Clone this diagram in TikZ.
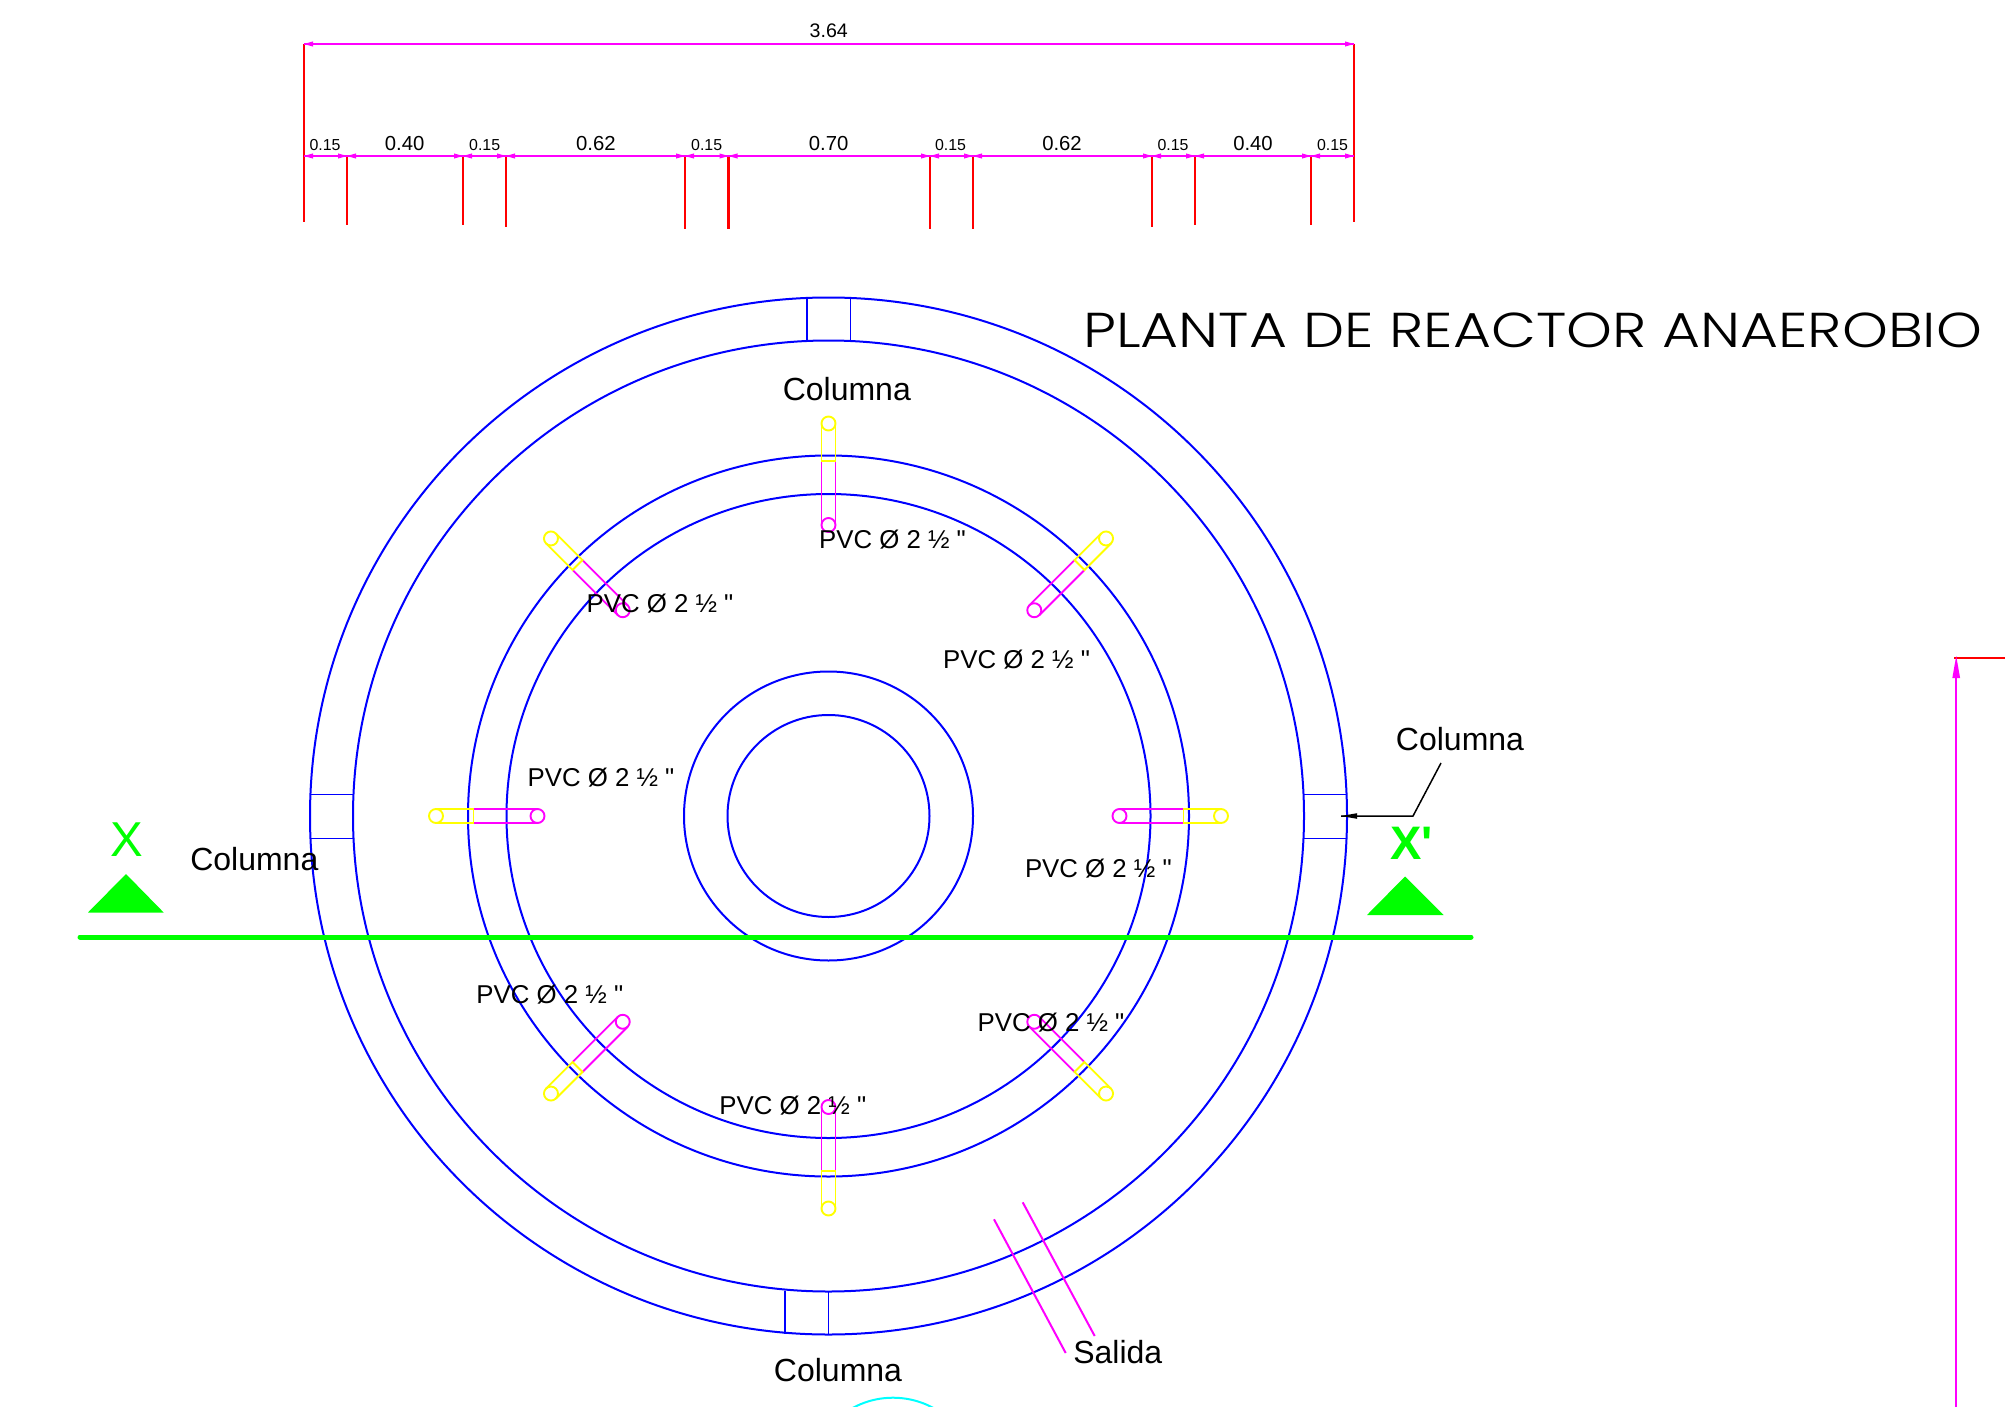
\documentclass[tikz,border=0pt]{standalone}
\usepackage{fontspec}
\setmainfont{Liberation Sans}[Ligatures=TeXOff]
\newfontfamily\titlefont{Poppins Light}
\definecolor{cadblue}{RGB}{0,0,255}
\definecolor{cadmag}{RGB}{255,0,255}
\definecolor{cadred}{RGB}{255,0,0}
\definecolor{cadgreen}{RGB}{0,255,0}
\definecolor{cadyel}{RGB}{255,255,0}
\definecolor{cadcyan}{RGB}{0,255,255}
\newcommand{\fsz}[1]{\fontsize{#1}{#1}\selectfont}
\tikzset{
  ring/.style={draw=cadblue,line width=2pt},
  colline/.style={draw=cadblue,line width=1.7pt},
  tickred/.style={draw=cadred,line width=2.2pt},
  dimline/.style={draw=cadmag,line width=2pt},
  pipem/.style={draw=cadmag,line width=1.9pt},
  pipey/.style={draw=cadyel,line width=1.9pt},
  head/.style={fill=cadmag,draw=none},
  lab/.style={inner sep=0pt,text=black},
  pvc/.style={lab,font=\fsz{25.8}},
  col/.style={lab,font=\fsz{32}},
  smalld/.style={lab,font=\fsz{15.9}},
  bigd/.style={lab,font=\fsz{20.3}},
}
\newcommand{\headR}[2]{\fill[head] (#1,#2) -- ++(-9,-2.6) -- ++(0,5.2) -- cycle;}
\newcommand{\headL}[2]{\fill[head] (#1,#2) -- ++(9,-2.6) -- ++(0,5.2) -- cycle;}
\begin{document}
\begin{tikzpicture}[x=1pt,y=-1pt]
\useasboundingbox (0,0) rectangle (2005,1407);
\fill[white] (0,0) rectangle (2005,1407);
\coordinate (c) at (828.5,816);
% rings
\foreach \r in {518.5,475.5,360.5,322,144.5,101} {\draw[ring] (c) circle[radius=\r];}
% columns
\draw[colline] (807,297.5) -- (807,340.5) (850.5,297.5) -- (850.5,340.5);
\draw[colline] (785.3,1291) -- (785.3,1334) (828.5,1291.5) -- (828.5,1334.5);
\draw[colline] (310,794.5) -- (353.4,794.5) (310,838.5) -- (353.4,838.5);
\draw[colline] (1303.5,794.5) -- (1347,794.5) (1303.5,838.5) -- (1347,838.5);
% pipes
\foreach \a in {0,45,...,315} {
  \begin{scope}[shift={(c)},rotate=\a]
    \draw[pipem] (355,-7) -- (291,-7) (355,7) -- (291,7);
    \draw[pipem] (291,0) circle[radius=7];
    \draw[pipey] (392.5,-7) -- (355,-7) -- (355,7) -- (392.5,7);
    \draw[pipey] (392.5,0) circle[radius=7];
  \end{scope}
}
% salida
\draw[dimline] (994,1219.3) -- (1065.7,1353);
\draw[dimline] (1022.7,1202.3) -- (1094.7,1336);
% cyan arc
\begin{scope}
  \clip (0,0) rectangle (2005,1407);
  \draw[draw=cadcyan,line width=2pt] (893,1482) circle[radius=84.3];
\end{scope}
% section line
\draw[draw=cadgreen,line width=5pt,line cap=round] (80,937) -- (1471,937);
\fill[cadgreen] (126,874) -- (88,912.5) -- (163.7,912.5) -- cycle;
\fill[cadgreen] (1405,876.5) -- (1367,915) -- (1443.6,915) -- cycle;
\node[inner sep=0pt,text=cadgreen,font=\fsz{49}] (xl) at (126.5,840) {X};
\node[inner sep=0pt,text=cadgreen,font=\fsz{47}\bfseries] (xr) at (1411.7,843) {X'};
% dimensions
\draw[tickred] (304,44) -- (304,222);
\draw[tickred] (1354.3,44) -- (1354.3,222);
\foreach \x/\y in {347/225,463/225,506/227,685/229,728.5/229,930/229,973/229,1152/227,1195/225,1311/225} {
  \draw[tickred] (\x,156) -- (\x,\y);
}
\draw[dimline] (304,44) -- (1354,44);
\draw[dimline] (304,156) -- (1354,156);
\headL{304}{44}\headR{1354}{44}
\headL{304}{156}\headR{1354}{156}
\foreach \x in {347,463,506,685,728.5,930,973,1152,1195,1311} {\headR{\x}{156}\headL{\x}{156}}
\node[bigd,font=\fsz{19.6}] (dtot) at (828.8,31) {3.64};
\foreach \x [count=\i] in {325,484.7,706.7,950.5,1173,1332.5} {\node[smalld] (s\i) at (\x,145) {0.15};}
\node[bigd] (d1) at (404.6,143.5) {0.40};
\node[bigd] (d2) at (595.9,143.5) {0.62};
\node[bigd] (d3) at (828.7,143.5) {0.70};
\node[bigd] (d4) at (1062,143.5) {0.62};
\node[bigd] (d5) at (1253,143.5) {0.40};
% far right
\draw[tickred] (1954,658.3) -- (2005,658.3);
\draw[dimline] (1956.2,670) -- (1956.2,1407);
\fill[head] (1956.2,656) -- (1952.3,678) -- (1960.1,678) -- cycle;
% title
\node[lab,anchor=west,font=\titlefont\fsz{49},xscale=1.19,transform shape] (title) at (1083,330) {PLANTA DE REACTOR ANAEROBIO};
% labels
\node[col] (c1) at (846.8,388.8) {Columna};
\node[col] (c2) at (254.3,858.8) {Columna};
\node[col] (c3) at (838,1370.5) {Columna};
\node[col] (c4) at (1460,739) {Columna};
\node[col] (sal) at (1117.8,1352.5) {Salida};
\coordinate (lead1) at (1441,763);
\coordinate (lead2) at (1413,816);
\coordinate (lead3) at (1341,816);
\draw[black,line width=1.5pt] (lead1) -- (lead2) -- (lead3);
\fill[black] (lead3) -- ++(16,-2.8) -- ++(0,5.6) -- cycle;
\foreach \x/\y [count=\i] in {892.5/539.6,660/603.5,1016.6/659.8,601/777.5,1098.4/868.2,549.8/994.8,1051/1023,792.8/1106} {
  \node[pvc] (p\i) at (\x,\y) {PVC Ø 2 ½ "};
}
\end{tikzpicture}
\end{document}
